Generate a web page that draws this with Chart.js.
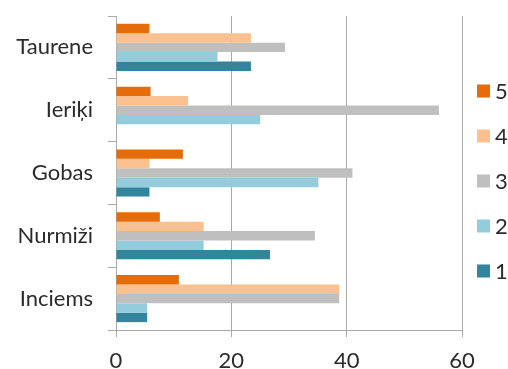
<!DOCTYPE html>
<html>
<head>
<meta charset="utf-8">
<script src="https://cdn.jsdelivr.net/npm/chart.js@4/dist/chart.umd.min.js"></script>
<style>
  html, body { margin: 0; padding: 0; background: #fff; }
  #wrap { width: 508px; height: 369px; }
</style>
</head>
<body>
<div id="wrap"><canvas id="c" width="508" height="369"></canvas></div>
<script>
// Villages on the category axis, top to bottom
const categories = ['Taurene', 'Ieriķi', 'Gobas', 'Nurmiži', 'Inciems'];

// Values per series
const series1 = [23.4, 0, 5.8, 26.7, 5.4];
const series2 = [17.6, 25.0, 35.1, 15.2, 5.4];
const series3 = [29.3, 56.0, 41.0, 34.5, 38.7];
const series4 = [23.4, 12.5, 5.8, 15.2, 38.7];
const series5 = [5.8, 6.0, 11.6, 7.6, 10.9];

const seriesLabels = ['5', '4', '3', '2', '1'];
const xTicks = [0, 20, 40, 60];

const colors = {
  '1': '#31859C',
  '2': '#93CDDD',
  '3': '#BFBFBF',
  '4': '#FAC090',
  '5': '#E46C0A'
};

const valuesByLabel = { '1': series1, '2': series2, '3': series3, '4': series4, '5': series5 };

const datasets = seriesLabels.map(l => ({
  label: l,
  data: valuesByLabel[l],
  backgroundColor: colors[l],
  borderWidth: 0,
  categoryPercentage: 0.75,
  barPercentage: 1.0
}));

const textColor = '#2b2b2b';
const lineColor = '#A9A9A9';
const fontFamily = 'Lato, "Open Sans", sans-serif';
const fontSize = 22;

// Legend column on the right, drawn from the datasets
const sideLegend = {
  id: 'sideLegend',
  afterDraw(chart) {
    const ctx = chart.ctx;
    ctx.save();
    ctx.font = fontSize + 'px ' + fontFamily;
    ctx.textBaseline = 'middle';
    ctx.textAlign = 'left';
    chart.data.datasets.forEach((d, i) => {
      const y = 91 + i * 45;
      ctx.fillStyle = d.backgroundColor;
      ctx.fillRect(477, y - 6.5, 13, 13);
      ctx.fillStyle = textColor;
      ctx.fillText(d.label, 495, y + 1);
    });
    ctx.restore();
  }
};

new Chart(document.getElementById('c'), {
  type: 'bar',
  data: { labels: categories, datasets },
  options: {
    indexAxis: 'y',
    responsive: false,
    animation: false,
    devicePixelRatio: 1,
    layout: { padding: { left: 0, right: 46, top: 16, bottom: 0 } },
    plugins: {
      legend: { display: false },
      tooltip: { enabled: false }
    },
    scales: {
      x: {
        min: 0,
        max: 60,
        afterBuildTicks(scale) { scale.ticks = xTicks.map(v => ({ value: v })); },
        afterFit(scale) { scale.height = 39; },
        grid: {
          color: lineColor,
          lineWidth: 1,
          drawTicks: true,
          tickLength: 7,
          tickColor: lineColor
        },
        border: { display: true, color: lineColor, width: 1 },
        ticks: {
          color: textColor,
          font: { family: fontFamily, size: fontSize },
          padding: 11,
          maxRotation: 0
        }
      },
      y: {
        afterFit(scale) {
          scale.width = 116;
          // category labels sit mid-band, so no extra room above or below
          scale.paddingTop = 0;
          scale.paddingBottom = 0;
        },
        grid: {
          offset: true,
          drawOnChartArea: false,
          drawTicks: true,
          tickLength: 8,
          color: lineColor,
          tickColor: lineColor
        },
        border: { display: true, color: lineColor, width: 1 },
        ticks: {
          color: textColor,
          font: { family: fontFamily, size: fontSize },
          padding: 15
        }
      }
    }
  },
  plugins: [sideLegend]
});
</script>
</body>
</html>
